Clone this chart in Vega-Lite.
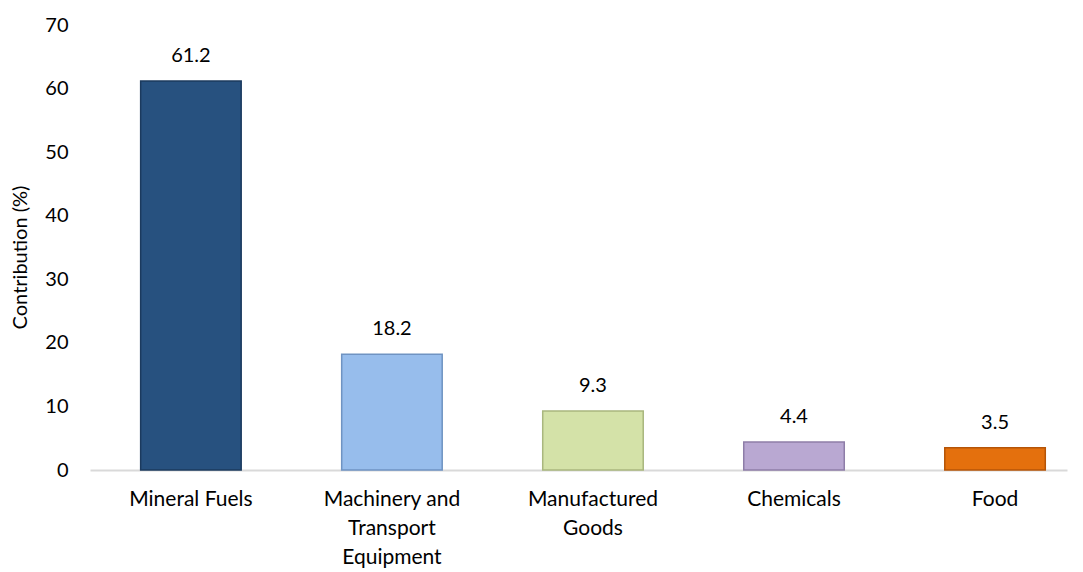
{
  "$schema": "https://vega.github.io/schema/vega-lite/v6.json",
  "width": 977,
  "height": 445,
  "autosize": {"type": "none"},
  "padding": {"left": 90, "top": 25, "right": 16, "bottom": 102},
  "background": "white",
  "config": {"view": {"stroke": null}, "font": "Lato"},
  "data": {
    "values": [
      {"category": "Mineral Fuels", "value": 61.2, "color": "#27517f", "edge": "#1b3a5e"},
      {"category": "Machinery and Transport Equipment", "value": 18.2, "color": "#97bdec", "edge": "#6f93c2"},
      {"category": "Manufactured Goods", "value": 9.3, "color": "#d4e2a8", "edge": "#a9b77e"},
      {"category": "Chemicals", "value": 4.4, "color": "#b9a8d2", "edge": "#8e7da8"},
      {"category": "Food", "value": 3.5, "color": "#e4700d", "edge": "#b55407"}
    ]
  },
  "encoding": {
    "x": {
      "field": "category",
      "type": "nominal",
      "sort": null,
      "scale": {"paddingInner": 0.5, "paddingOuter": 0.18, "align": 0.7},
      "axis": {
        "title": null,
        "labelAngle": 0,
        "labelFontSize": 21,
        "labelColor": "#000000",
        "labelPadding": 18,
        "labelLineHeight": 29,
        "labelExpr": "datum.value == 'Machinery and Transport Equipment' ? ['Machinery and', 'Transport', 'Equipment'] : datum.value == 'Manufactured Goods' ? ['Manufactured', 'Goods'] : datum.value",
        "ticks": false,
        "domainColor": "#d9d9d9",
        "domainWidth": 2
      }
    },
    "y": {
      "field": "value",
      "type": "quantitative",
      "scale": {"domain": [0, 70]},
      "axis": {
        "title": "Contribution (%)",
        "titleFontSize": 20,
        "titleFontWeight": "normal",
        "titleColor": "#000000",
        "titlePadding": 14,
        "titleY": 232,
        "values": [0, 10, 20, 30, 40, 50, 60, 70],
        "labelFontSize": 20,
        "labelColor": "#000000",
        "labelPadding": 22,
        "ticks": false,
        "domain": false,
        "grid": false
      }
    }
  },
  "layer": [
    {
      "mark": {"type": "bar", "strokeWidth": 1.5},
      "encoding": {
        "color": {"field": "color", "type": "nominal", "scale": null, "legend": null},
        "stroke": {"field": "edge", "type": "nominal", "scale": null, "legend": null}
      }
    },
    {
      "mark": {"type": "text", "dy": -25, "fontSize": 20, "color": "#000000"},
      "encoding": {
        "text": {"field": "value", "type": "quantitative", "format": ".1f"}
      }
    }
  ]
}
